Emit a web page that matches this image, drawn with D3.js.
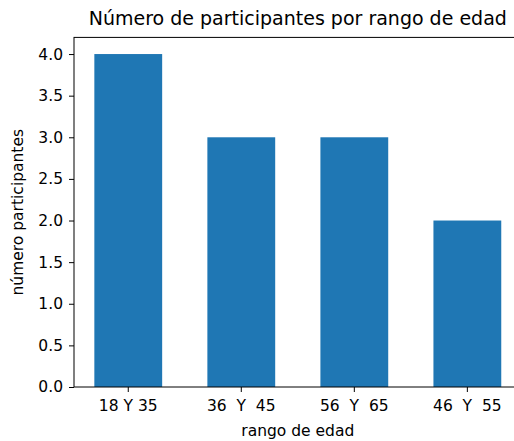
<!DOCTYPE html>
<html>
<head>
<meta charset="utf-8">
<script src="https://cdn.jsdelivr.net/npm/d3@7"></script>
<style>
  html, body { margin: 0; padding: 0; background: #fff; }
  svg { display: block; }
  text { font-family: "DejaVu Sans", sans-serif; fill: #000; }
</style>
</head>
<body>
<div id="chart"></div>
<script>
// Participants per age range
const categories = ["18 Y 35", "36  Y  45", "56  Y  65", "46  Y  55"];
const participants = [4, 3, 3, 2];
const yTicks = [0, 0.5, 1, 1.5, 2, 2.5, 3, 3.5, 4];

const W = 514, H = 441;
const plotLeft = 74, plotRight = 521.6, plotTop = 37.4, plotBottom = 387;

const svg = d3.select("#chart").append("svg")
  .attr("width", W).attr("height", H);

const x = d3.scaleBand()
  .domain(categories)
  .range([plotLeft, plotRight])
  .paddingInner(0.4)
  .paddingOuter(0.18);

const y = d3.scaleLinear()
  .domain([0, 4.2])
  .range([plotBottom, plotTop]);

// bars
svg.append("g").selectAll("rect")
  .data(categories)
  .join("rect")
  .attr("x", d => x(d))
  .attr("width", x.bandwidth())
  .attr("y", (d, i) => y(participants[i]))
  .attr("height", (d, i) => y(0) - y(participants[i]))
  .attr("fill", "#1f77b4");

// axes
const yAxis = d3.axisLeft(y).tickValues(yTicks).tickFormat(d3.format(".1f"))
  .tickSize(5).tickPadding(6);
const gy = svg.append("g").attr("transform", `translate(${plotLeft},0)`).call(yAxis);
gy.select(".domain").remove();
gy.attr("font-size", null).attr("font-family", null);
gy.selectAll("text").style("font-size", "15.5px");
gy.selectAll("line").attr("stroke", "#000").attr("stroke-width", 1);

const xAxis = d3.axisBottom(x).tickSize(5).tickPadding(8);
const gx = svg.append("g").attr("transform", `translate(0,${plotBottom})`).call(xAxis);
gx.select(".domain").remove();
gx.attr("font-size", null).attr("font-family", null);
gx.selectAll("text").style("font-size", "15.5px")
  .style("white-space", "pre").attr("xml:space", "preserve");
gx.selectAll("line").attr("stroke", "#000").attr("stroke-width", 1);

// frame
svg.append("rect")
  .attr("x", plotLeft).attr("y", plotTop)
  .attr("width", plotRight - plotLeft).attr("height", plotBottom - plotTop)
  .attr("fill", "none").attr("stroke", "#000").attr("stroke-width", 1);

// labels
svg.append("text")
  .attr("x", (plotLeft + plotRight) / 2).attr("y", 25)
  .attr("text-anchor", "middle")
  .style("font-size", "19px")
  .text("Número de participantes por rango de edad");

svg.append("text")
  .attr("x", (plotLeft + plotRight) / 2).attr("y", 436)
  .attr("text-anchor", "middle")
  .style("font-size", "15.5px")
  .text("rango de edad");

svg.append("text")
  .attr("transform", `translate(23,${(plotTop + plotBottom) / 2}) rotate(-90)`)
  .attr("text-anchor", "middle")
  .style("font-size", "15.5px")
  .text("número participantes");
</script>
</body>
</html>
